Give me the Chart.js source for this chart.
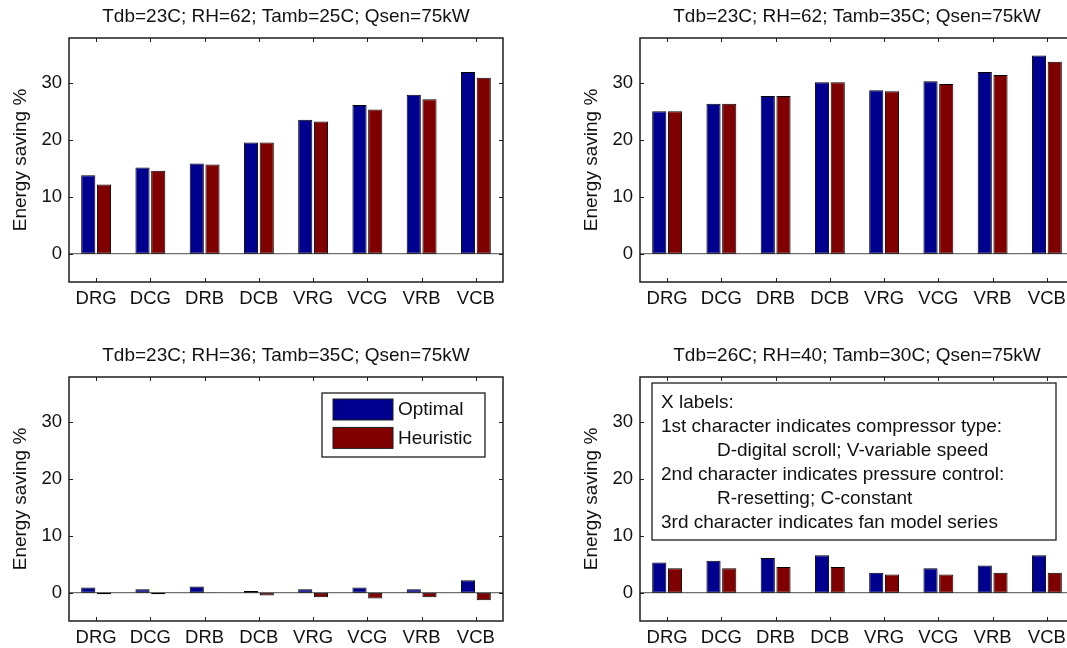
<!DOCTYPE html>
<html>
<head>
<meta charset="utf-8">
<script src="https://cdn.jsdelivr.net/npm/chart.js@4.4.1/dist/chart.umd.min.js"></script>
<style>
html, body { margin:0; padding:0; width:1067px; height:648px; overflow:hidden; background:#fff; }
.panel { position:absolute; width:520px; height:320px; }
</style>
</head>
<body>
<div class="panel" style="left:0px;top:0px"><canvas id="c1" width="520" height="320"></canvas></div>
<div class="panel" style="left:571px;top:0px"><canvas id="c2" width="520" height="320"></canvas></div>
<div class="panel" style="left:0px;top:339px"><canvas id="c3" width="520" height="320"></canvas></div>
<div class="panel" style="left:571px;top:339px"><canvas id="c4" width="520" height="320"></canvas></div>
<script>
// data
const categories = ['DRG', 'DCG', 'DRB', 'DCB', 'VRG', 'VCG', 'VRB', 'VCB'];
const seriesNames = ['Optimal', 'Heuristic'];
const seriesColors = ['#00008F', '#800000'];

const titles = [
  'Tdb=23C; RH=62; Tamb=25C; Qsen=75kW',
  'Tdb=23C; RH=62; Tamb=35C; Qsen=75kW',
  'Tdb=23C; RH=36; Tamb=35C; Qsen=75kW',
  'Tdb=26C; RH=40; Tamb=30C; Qsen=75kW'
];

const optTamb25 = [13.8, 15.2, 15.9, 19.6, 23.6, 26.2, 28.0, 32.0];
const heurTamb25 = [12.2, 14.6, 15.7, 19.6, 23.3, 25.4, 27.2, 31.0];

const optTamb35 = [25.1, 26.4, 27.8, 30.2, 28.8, 30.4, 32.0, 34.9];
const heurTamb35 = [25.1, 26.4, 27.8, 30.2, 28.6, 29.9, 31.5, 33.8];

const optRH36 = [0.9, 0.6, 1.1, 0.3, 0.6, 0.9, 0.6, 2.2];
const heurRH36 = [-0.3, -0.3, -0.05, -0.5, -0.8, -1.05, -0.8, -1.35];

const optTdb26 = [5.3, 5.6, 6.1, 6.6, 3.5, 4.3, 4.8, 6.6];
const heurTdb26 = [4.3, 4.3, 4.5, 4.5, 3.2, 3.2, 3.5, 3.5];

const yTicks = [0, 10, 20, 30];
const yMin = -5;
const yMax = 38;
const yLabel = 'Energy saving %';

const noteLines = [
  'X labels:',
  '1st character indicates compressor type:',
  'D-digital scroll; V-variable speed',
  '2nd character indicates pressure control:',
  'R-resetting; C-constant',
  '3rd character indicates fan model series'
];
const noteIndent = [0, 0, 1, 0, 1, 0];

const FONT = 'Arial, "Liberation Sans", Helvetica, sans-serif';

// matlab style axes box, inward ticks, zero baseline, legend and note box
const boxPlugin = {
  id: 'matlabBox',
  beforeDatasetsDraw(chart) {
    const {ctx, chartArea: a, scales: {y}} = chart;
    const y0 = y.getPixelForValue(0);
    ctx.save();
    ctx.strokeStyle = '#707070';
    ctx.lineWidth = 1.2;
    ctx.beginPath();
    ctx.moveTo(a.left, y0);
    ctx.lineTo(a.right, y0);
    ctx.stroke();
    ctx.restore();
  },
  afterDatasetsDraw(chart, args, opts) {
    const {ctx, chartArea: a, scales: {x, y}} = chart;
    ctx.save();
    ctx.strokeStyle = '#1e1e1e';
    ctx.lineWidth = 1.5;
    ctx.strokeRect(a.left, a.top, a.right - a.left, a.bottom - a.top);
    ctx.lineWidth = 1;
    ctx.beginPath();
    y.ticks.forEach(t => {
      const py = Math.round(y.getPixelForValue(t.value)) + 0.5;
      ctx.moveTo(a.left, py); ctx.lineTo(a.left + 4, py);
      ctx.moveTo(a.right, py); ctx.lineTo(a.right - 4, py);
    });
    x.ticks.forEach((t, i) => {
      const px = Math.round(x.getPixelForTick(i)) + 0.5;
      ctx.moveTo(px, a.top); ctx.lineTo(px, a.top + 4);
      ctx.moveTo(px, a.bottom); ctx.lineTo(px, a.bottom - 4);
    });
    ctx.stroke();

    ctx.font = '19px ' + FONT;
    ctx.fillStyle = '#111';
    ctx.textAlign = 'left';
    ctx.textBaseline = 'middle';

    if (opts.legend) {
      const bx = a.left + 253, by = a.top + 16, bw = 163, bh = 64;
      ctx.fillStyle = '#fff';
      ctx.fillRect(bx, by, bw, bh);
      ctx.strokeStyle = '#1e1e1e';
      ctx.lineWidth = 1.3;
      ctx.strokeRect(bx, by, bw, bh);
      chart.data.datasets.forEach((ds, i) => {
        const sy = by + 6 + i * 28.4;
        ctx.fillStyle = ds.backgroundColor;
        ctx.fillRect(bx + 11, sy, 60, 21);
        ctx.lineWidth = 1;
        ctx.strokeRect(bx + 11, sy, 60, 21);
        ctx.fillStyle = '#111';
        ctx.fillText(ds.label, bx + 76, sy + 11);
      });
    }

    if (opts.note) {
      const bx = a.left + 12, by = a.top + 6, bw = 404, bh = 157;
      ctx.fillStyle = '#fff';
      ctx.fillRect(bx, by, bw, bh);
      ctx.strokeStyle = '#1e1e1e';
      ctx.lineWidth = 1.3;
      ctx.strokeRect(bx, by, bw, bh);
      ctx.fillStyle = '#111';
      opts.note.forEach((line, i) => {
        const tx = bx + 9 + (noteIndent[i] ? 56 : 0);
        ctx.fillText(line, tx, by + 20 + i * 24);
      });
    }
    ctx.restore();
  }
};

function makeChart(id, title, opt, heur, extra) {
  const ctx = document.getElementById(id).getContext('2d');
  return new Chart(ctx, {
    type: 'bar',
    data: {
      labels: categories,
      datasets: [
        { label: seriesNames[0], data: opt, backgroundColor: seriesColors[0] },
        { label: seriesNames[1], data: heur, backgroundColor: seriesColors[1] }
      ]
    },
    options: {
      responsive: false,
      animation: false,
      layout: { padding: { left: 0, right: 17, top: 0, bottom: 0 } },
      datasets: {
        bar: {
          categoryPercentage: 0.58,
          barPercentage: 0.9,
          borderColor: '#000',
          borderWidth: 1,
          borderSkipped: false
        }
      },
      plugins: {
        legend: { display: false },
        tooltip: { enabled: false },
        title: {
          display: true,
          text: title,
          fullSize: false,
          color: '#111',
          font: { family: FONT, size: 19, weight: 'normal' },
          padding: { top: 5, bottom: 10.2 }
        },
        matlabBox: extra || {}
      },
      scales: {
        x: {
          grid: { display: false, drawTicks: false },
          border: { display: false },
          ticks: {
            color: '#111',
            font: { family: FONT, size: 18.5 },
            padding: 6,
            maxRotation: 0,
            autoSkip: false
          },
          afterFit: s => { s.height = 38; }
        },
        y: {
          min: yMin,
          max: yMax,
          grid: { display: false, drawTicks: false },
          border: { display: false },
          afterBuildTicks: s => { s.ticks = yTicks.map(v => ({ value: v })); },
          ticks: {
            color: '#111',
            font: { family: FONT, size: 18.5 },
            padding: 7
          },
          title: {
            display: true,
            text: yLabel,
            color: '#111',
            font: { family: FONT, size: 19 },
            padding: { top: 9, bottom: 0 }
          },
          afterFit: s => { s.width = 69; }
        }
      }
    },
    plugins: [boxPlugin]
  });
}

makeChart('c1', titles[0], optTamb25, heurTamb25);
makeChart('c2', titles[1], optTamb35, heurTamb35);
makeChart('c3', titles[2], optRH36, heurRH36, { legend: true });
makeChart('c4', titles[3], optTdb26, heurTdb26, { note: noteLines });
</script>
</body>
</html>
